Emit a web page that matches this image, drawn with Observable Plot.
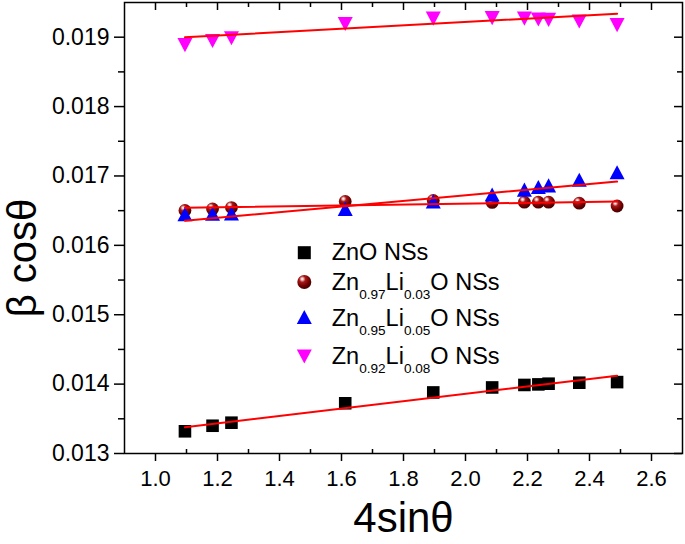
<!DOCTYPE html>
<html><head><meta charset="utf-8">
<script src="https://cdn.jsdelivr.net/npm/d3@7"></script>
<script src="https://cdn.jsdelivr.net/npm/@observablehq/plot@0.6"></script>
<style>
body{margin:0;background:#fff;}
#wrap{position:relative;width:685px;height:544px;font-family:"Liberation Sans",Arial,sans-serif;}
#wrap svg{display:block;}
#legend{position:absolute;left:0;top:0;}
</style></head><body><div id="wrap"></div>
<script>
// ---- data ----
const x4sin = [1.095, 1.184, 1.245, 1.612, 1.896, 2.086, 2.190, 2.235, 2.268, 2.367, 2.489];
const znO   = [0.013320, 0.013400, 0.013444, 0.013724, 0.013880, 0.013952, 0.013988, 0.013996, 0.014006, 0.014020, 0.014029];
const li003 = [0.016502, 0.016525, 0.016545, 0.016632, 0.016646, 0.016618, 0.016622, 0.016622, 0.016622, 0.016608, 0.016567];
const li005 = [0.016415, 0.016422, 0.016425, 0.016492, 0.016600, 0.016698, 0.016769, 0.016808, 0.016831, 0.016911, 0.017019];
const li008 = [0.018920, 0.018980, 0.019019, 0.019223, 0.019301, 0.019309, 0.019301, 0.019288, 0.019283, 0.019259, 0.019208];
const seriesNames = ["ZnO NSs", "Zn0.97Li0.03O NSs", "Zn0.95Li0.05O NSs", "Zn0.92Li0.08O NSs"];
const legendParts = [
  [["ZnO NSs", false]],
  [["Zn", false], ["0.97", true], ["Li", false], ["0.03", true], ["O NSs", false]],
  [["Zn", false], ["0.95", true], ["Li", false], ["0.05", true], ["O NSs", false]],
  [["Zn", false], ["0.92", true], ["Li", false], ["0.08", true], ["O NSs", false]]
];
const xTicks = [1.0, 1.2, 1.4, 1.6, 1.8, 2.0, 2.2, 2.4, 2.6];
const xMinorTicks = [1.1, 1.3, 1.5, 1.7, 1.9, 2.1, 2.3, 2.5];
const yTicks = [0.013, 0.014, 0.015, 0.016, 0.017, 0.018, 0.019];
const yMinorTicks = [0.0135, 0.0145, 0.0155, 0.0165, 0.0175, 0.0185];
const xLabel = "4sinθ";
const yLabel = "β cosθ";

const toRows = (ys, s) => x4sin.map((x, i) => ({x, y: ys[i], series: s}));
const rows0 = toRows(znO, seriesNames[0]);
const rows1 = toRows(li003, seriesNames[1]);
const rows2 = toRows(li005, seriesNames[2]);
const rows3 = toRows(li008, seriesNames[3]);

// ---- layout ----
const W = 685, H = 544, mL = 124, mR = 3, mT = 2, mB = 91;
const fw = W - mL - mR, fh = H - mT - mB;
const FONT = '"Liberation Sans", Arial, sans-serif';

const triUp = {draw(ctx, size) {
  const r = Math.sqrt(size / Math.PI), w = 2.5 * r, h = 2.35 * r;
  ctx.moveTo(0, -2 * h / 3); ctx.lineTo(w / 2, h / 3); ctx.lineTo(-w / 2, h / 3); ctx.closePath();
}};
const triDown = {draw(ctx, size) {
  const r = Math.sqrt(size / Math.PI), w = 2.5 * r, h = 2.35 * r;
  ctx.moveTo(0, 2 * h / 3); ctx.lineTo(w / 2, -h / 3); ctx.lineTo(-w / 2, -h / 3); ctx.closePath();
}};

const chart = Plot.plot({
  width: W, height: H,
  marginLeft: mL, marginRight: mR, marginTop: mT, marginBottom: mB,
  style: {fontFamily: FONT, background: "white", color: "black", overflow: "visible"},
  x: {domain: [0.9, 2.7]},
  y: {domain: [0.013, 0.0195]},
  marks: [
    Plot.axisX(xTicks, {tickSize: 8, tickPadding: 9, tickFormat: d3.format(".1f"), fontSize: 22, label: null, strokeWidth: 1.5}),
    Plot.axisY(yTicks, {tickSize: 10, tickPadding: 5, tickFormat: d3.format(".3f"), fontSize: 23, label: null, strokeWidth: 1.5}),
    Plot.axisY(yMinorTicks, {tickSize: 6, tickFormat: () => "", label: null, strokeWidth: 1.5}),
    Plot.tickX(xTicks, {x: d => d, insetBottom: fh - 8, strokeWidth: 1.5}),
    Plot.tickX(xMinorTicks, {x: d => d, insetBottom: fh - 5, strokeWidth: 1.5}),
    Plot.tickX(xMinorTicks, {x: d => d, insetTop: fh - 4, strokeWidth: 1.5}),
    Plot.tickY(yTicks, {y: d => d, insetLeft: fw - 8, strokeWidth: 1.5}),
    Plot.tickY(yMinorTicks, {y: d => d, insetLeft: fw - 5, strokeWidth: 1.5}),
    Plot.frame({strokeWidth: 1.5}),
    Plot.dot(rows0, {x: "x", y: "y", symbol: "square", r: 7.1, fill: "black"}),
    Plot.dot(rows1, {x: "x", y: "y", r: 6.4, fill: "url(#sphereGrad)"}),
    Plot.dot(rows2, {x: "x", y: "y", symbol: triUp, r: 6, fill: "#0000ff"}),
    Plot.dot(rows3, {x: "x", y: "y", symbol: triDown, r: 6, fill: "#ff00ff"}),
    Plot.linearRegressionY(rows0, {x: "x", y: "y", stroke: "#ff0000", strokeWidth: 2, ci: 0}),
    Plot.linearRegressionY(rows1, {x: "x", y: "y", stroke: "#ff0000", strokeWidth: 2, ci: 0}),
    Plot.linearRegressionY(rows2, {x: "x", y: "y", stroke: "#ff0000", strokeWidth: 2, ci: 0}),
    Plot.linearRegressionY(rows3, {x: "x", y: "y", stroke: "#ff0000", strokeWidth: 2, ci: 0}),
    Plot.text([xLabel], {text: d => d, frameAnchor: "bottom", lineAnchor: "middle", textAnchor: "middle", dy: 65, fontSize: 42, fill: "black"}),
    Plot.text([yLabel], {text: d => d, frameAnchor: "left", lineAnchor: "middle", textAnchor: "middle", dx: -101, dy: 30, rotate: -90, fontSize: 40, fill: "black"})
  ]
});

const defs = d3.select(chart).insert("defs", ":first-child");
const g = defs.append("radialGradient").attr("id", "sphereGrad")
  .attr("cx", "38%").attr("cy", "32%").attr("r", "65%").attr("fx", "35%").attr("fy", "28%");
[[0, "#ffffff"], [0.12, "#f0c8c8"], [0.35, "#a81818"], [0.75, "#700000"], [1, "#4a0000"]]
  .forEach(([o, c]) => g.append("stop").attr("offset", o).attr("stop-color", c));

const wrap = document.getElementById("wrap");
wrap.appendChild(chart);

// ---- legend (overlay) ----
const leg = d3.select(wrap).append("svg").attr("id", "legend")
  .attr("width", W).attr("height", H).style("font-family", FONT);
const mx = 304.3, tx = 331.7;
const markerY = [252.7, 282, 319.3, 354.2];
const baseY = [260, 290, 326, 363.5];
const mk = [
  s => s.append("rect").attr("x", mx - 6.5).attr("y", markerY[0] - 6.5).attr("width", 13).attr("height", 13).attr("fill", "black"),
  s => s.append("circle").attr("cx", mx).attr("cy", markerY[1]).attr("r", 7).attr("fill", "url(#sphereGrad)"),
  s => s.append("path").attr("d", d3.symbol(triUp, Math.PI * 36)()).attr("transform", `translate(${mx},${markerY[2]})`).attr("fill", "#0000ff"),
  s => s.append("path").attr("d", d3.symbol(triDown, Math.PI * 36)()).attr("transform", `translate(${mx},${markerY[3]})`).attr("fill", "#ff00ff")
];
legendParts.forEach((parts, i) => {
  mk[i](leg);
  const t = leg.append("text").attr("x", tx).attr("y", baseY[i]).attr("font-size", 23.5).attr("fill", "black");
  let shifted = false;
  parts.forEach(([str, sub]) => {
    const sp = t.append("tspan").text(str);
    if (sub && !shifted) { sp.attr("dy", 9).attr("font-size", 13.6); shifted = true; }
    else if (sub) { sp.attr("font-size", 13.6); }
    else if (shifted) { sp.attr("dy", -9); shifted = false; }
  });
});
</script></body></html>
